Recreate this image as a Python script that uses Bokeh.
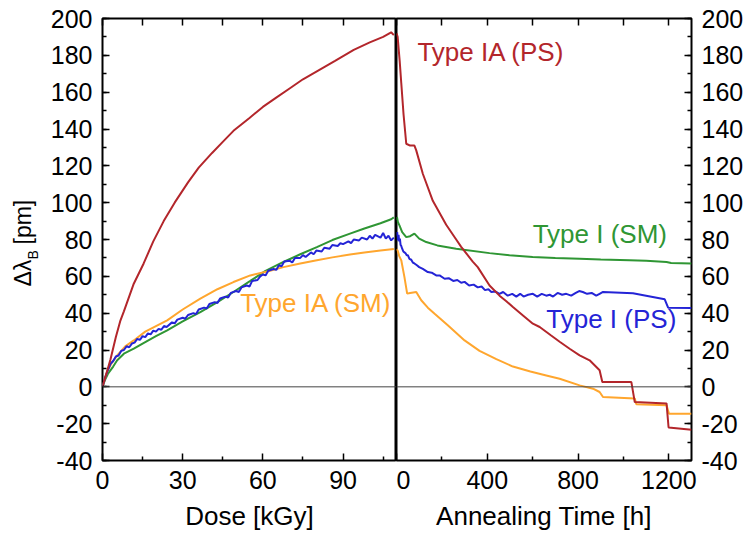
from bokeh.plotting import figure
from bokeh.models import Range1d, FixedTicker, LinearAxis, Span, Label, CustomJSTickFormatter
from bokeh.layouts import row
from bokeh.embed import file_html
from bokeh.resources import INLINE

# ---------------- data ----------------
# Irradiation phase (dose in kGy)
red_dose_x = [0, 1, 2, 3, 5, 6.7, 8, 11.7, 15.4, 19, 22.9, 27, 32, 36, 41, 45, 49, 55, 60, 65, 70, 75, 81, 87, 94, 100, 105, 108, 109]
red_dose_y = [0, 5, 10, 15, 27, 36, 41, 56, 67, 79, 90, 100, 111, 119, 127, 133, 139, 146, 152, 157, 162, 167, 172, 177, 183, 187, 190, 192.5, 191]

green_dose_x = [0, 1, 2, 4, 5.5, 8, 11.7, 15, 20, 24.2, 30, 36.6, 43, 49, 55.3, 61, 67.7, 74, 80.2, 86, 92.6, 98, 104, 108, 109]
green_dose_y = [0, 4, 7, 11, 14.4, 18, 20.7, 23.5, 27.5, 30.7, 35.5, 40.6, 46, 51.5, 57.5, 63, 67.8, 72, 75.9, 79.7, 83.2, 86, 88.8, 91, 92]

orange_dose_x = [0, 1, 2, 3.5, 5.5, 8.5, 11.7, 16, 20, 24.2, 30, 36.6, 43, 49, 55.3, 62, 67.7, 74, 80.2, 86, 92.6, 98, 104, 109]
orange_dose_y = [0, 5, 9, 13, 17.1, 22, 25.2, 30, 33, 36.1, 42, 47.9, 53, 56.9, 60.5, 62.8, 65, 67, 68.7, 70.3, 71.8, 73, 74, 74.8]

blue_dose_x = [0, 1, 2, 3, 4, 5, 6, 7, 8, 9, 10, 11, 12, 13, 14, 15, 16, 17, 18, 19, 20, 21, 22, 23, 24,
               26, 27, 28, 30, 31, 32, 34, 35, 36, 38, 39, 40, 42, 43, 44, 46, 47, 48, 50, 51, 52, 54, 55, 56,
               58, 59, 60, 61, 62, 64, 65, 66, 67, 68, 70, 71, 72, 74, 75, 76, 78, 79, 80, 82, 83, 85, 86, 88,
               89, 90, 92, 93, 94, 96, 97, 99, 100, 101, 102, 104, 105, 106, 107, 108, 109]
blue_dose_y = [0, 5, 9, 12.5, 14, 16.5, 17, 19.5, 20, 22, 21.5, 23.5, 24, 26, 25.5, 27.5, 27, 29, 28.5, 30.5, 30, 31.5, 31, 33, 32.5,
               35, 34.5, 36.5, 37.5, 37, 39, 40, 39.5, 42, 43, 42.5, 45, 46, 45.5, 48, 49, 48.5, 51, 52, 51.5, 54, 55, 54.5, 57.5,
               58, 60, 61, 60.5, 63, 64, 63.5, 66, 65.5, 68, 68.5, 67.5, 70, 70, 71.5, 70.5, 73, 72, 74, 73.5, 75.5, 75, 77, 76.5,
               78, 77.5, 79, 78, 80, 79.5, 81, 80, 82, 80.5, 82.5, 81, 83.5, 80.5, 82, 79.5, 81]

# Annealing phase (time in h)
red_ann_x = [0, 5, 14, 21, 31, 43, 60, 79, 87, 116, 160, 219, 263, 285, 336, 358, 410, 454, 484, 513, 560, 601, 631, 680, 719,
             763, 807, 851, 895, 907, 1035, 1050, 1190, 1199, 1300]
red_ann_y = [192, 190, 177, 165, 148, 132, 131, 131, 128.4, 115.7, 101, 88, 80, 76, 68, 65, 55, 49.5, 46.5, 43.3, 38.5, 34.3, 32.5, 28, 24.5,
             20.7, 17.1, 14.4, 9, 2.6, 2.6, -8.3, -9, -22.1, -23.3]

green_ann_x = [0, 2, 6, 13, 25, 43, 60, 79, 100, 131, 180, 263, 410, 498, 600, 700, 807, 900, 1027, 1100, 1190, 1210, 1300]
green_ann_y = [90.5, 92.2, 89.5, 87.7, 84, 81.3, 81.8, 83.2, 80.5, 78.6, 76.8, 75, 72.6, 71.4, 70.5, 70, 69.6, 69.2, 68.7, 68.4, 67.8, 67.2, 67]

orange_ann_x = [0, 5, 12, 21, 35, 47, 60, 87, 109, 138, 168, 226, 300, 366, 440, 513, 590, 660, 719, 807, 866, 895, 910, 1050, 1057, 1190, 1201, 1300]
orange_ann_y = [74.8, 74, 71, 68.7, 59.6, 50.6, 51, 51.5, 47, 43, 39.7, 33.4, 25.2, 19.5, 15, 11, 8.3, 6.2, 4.4, 0.8, -1, -2.8, -5.5, -6.4, -9.5, -10, -14.6, -14.6]

blue_ann_x = [0, 3, 6, 9, 12, 15, 18, 21, 25, 30, 35, 40, 45, 50, 57, 65, 72, 79, 90, 100, 116, 138, 155, 175, 190, 212, 230, 250,
              268, 285, 300, 320, 340, 358, 375, 390, 405, 418, 435, 454, 470, 490, 510, 528, 545, 560, 580, 601, 620, 640, 660,
              675, 690, 710, 730, 748, 770, 790, 805, 821, 840, 860, 880, 895, 910, 1042, 1100, 1182, 1197, 1300]
blue_ann_y = [82, 84, 79.5, 82.5, 79, 80.5, 77, 76.5, 75, 73.5, 73, 72.5, 71.5, 71.5, 69.5, 69, 67.5, 67, 66, 65, 64, 62.3, 62, 60.5, 60.5, 58.7, 59, 57.5,
              58, 56.5, 57, 55, 55.5, 54, 54.5, 52.5, 53, 51.5, 51.8, 50.5, 51.5, 49.5, 50.5, 49, 50.5, 49, 50, 50.5, 49, 50.5, 49.5,
              50, 49, 51, 50, 50.5, 49.5, 51, 52, 51.5, 50.5, 51, 49.5, 50.5, 51.5, 50.8, 49.5, 47.5, 43, 42.8]

dose_ticks = [0, 30, 60, 90]
dose_minor = [15, 45, 75, 105]
time_ticks = [0, 400, 800, 1200]
time_minor = [200, 600, 1000]
y_ticks = list(range(-40, 201, 20))
y_minor = list(range(-40, 201, 10))
y_title_parts = ["Δλ", "B", "[pm]"]

# ---------------- style ----------------
FONT = "Liberation Sans"
RED = "#b3262b"
GREEN = "#2f9634"
BLUE = "#2424d6"
ORANGE = "#ffa62e"
LW = 2
H = 538          # total figure height
TITLE_W = 40     # width of the strip holding the y-axis title


def style_axis(ax, show_labels=True):
    ax.axis_line_color = None
    ax.major_tick_in = 7
    ax.major_tick_out = 0
    ax.minor_tick_in = 4
    ax.minor_tick_out = 0
    ax.major_tick_line_width = 1.5
    ax.minor_tick_line_width = 1.5
    ax.major_tick_line_color = "black"
    ax.minor_tick_line_color = "black"
    ax.major_label_text_font = FONT
    ax.major_label_text_color = "black"
    if show_labels:
        ax.formatter = CustomJSTickFormatter(code="return tick.toString()")
        ax.major_label_text_font_size = "25px"
        ax.major_label_standoff = 10
    else:
        ax.formatter = CustomJSTickFormatter(code="return ''")
        ax.major_label_text_font_size = "1px"
        ax.major_label_standoff = 0
    ax.axis_label_text_font = FONT
    ax.axis_label_text_font_style = "normal"
    ax.axis_label_text_font_size = "26px"
    ax.axis_label_text_color = "black"
    ax.axis_label_standoff = 9


def make_fig(xr, fw, loc, mbl, mbr):
    p = figure(frame_width=fw, frame_height=442, x_range=xr, y_range=Range1d(-40, 200),
               output_backend="svg", toolbar_location=None, y_axis_location=loc,
               min_border_left=mbl, min_border_right=mbr, min_border_top=18, min_border_bottom=H - 18 - 442)
    p.grid.visible = False
    p.outline_line_color = "black"
    p.outline_line_width = 2
    p.background_fill_color = "white"
    p.border_fill_color = "white"
    p.yaxis.ticker = FixedTicker(ticks=y_ticks, minor_ticks=y_minor)
    style_axis(p.yaxis[0])
    style_axis(p.xaxis[0])
    p.add_layout(Span(location=0, dimension="width", line_color="#444444", line_width=1))
    return p


# Strip for the rotated y-axis title (pixel coordinates, y measured from the bottom)
p0 = figure(frame_width=TITLE_W, frame_height=H, x_range=Range1d(0, TITLE_W), y_range=Range1d(0, H),
            output_backend="svg", toolbar_location=None, x_axis_type=None, y_axis_type=None,
            min_border=0)
p0.grid.visible = False
p0.outline_line_color = None
p0.add_layout(Label(x=22, y=H - 268, text=y_title_parts[0], angle=1.5707963, text_color="black",
                    text_font=FONT, text_font_size="23px", text_baseline="middle", text_align="left"))
p0.add_layout(Label(x=32, y=H - 241, text=y_title_parts[1], angle=1.5707963, text_color="black",
                    text_font=FONT, text_font_size="14px", text_baseline="middle", text_align="left"))
p0.add_layout(Label(x=22, y=H - 226, text=y_title_parts[2], angle=1.5707963, text_color="black",
                    text_font=FONT, text_font_size="23px", text_baseline="middle", text_align="left"))

# Left: irradiation
p1 = make_fig(Range1d(0, 110), 294, "left", 102 - TITLE_W, 0)
p1.xaxis.ticker = FixedTicker(ticks=dose_ticks, minor_ticks=dose_minor)
p1.xaxis.axis_label = "Dose [kGy]"
top1 = LinearAxis(ticker=FixedTicker(ticks=dose_ticks + dose_minor))
style_axis(top1, show_labels=False)
p1.add_layout(top1, "above")

p1.line(green_dose_x, green_dose_y, line_color=GREEN, line_width=LW)
p1.line(orange_dose_x, orange_dose_y, line_color=ORANGE, line_width=LW)
p1.line(blue_dose_x, blue_dose_y, line_color=BLUE, line_width=LW)
p1.line(red_dose_x, red_dose_y, line_color=RED, line_width=LW)

p1.add_layout(Label(x=51.5, y=45.6, text="Type IA (SM)", text_color=ORANGE, text_font=FONT,
                    text_font_size="26px", text_baseline="middle", text_align="left"))

# Right: annealing
p2 = make_fig(Range1d(0, 1300), 295, "right", 0, 44)
p2.xaxis.ticker = FixedTicker(ticks=time_ticks, minor_ticks=time_minor)
p2.xaxis.axis_label = "Annealing Time [h]"
top2 = LinearAxis(ticker=FixedTicker(ticks=time_ticks + time_minor))
style_axis(top2, show_labels=False)
p2.add_layout(top2, "above")

p2.line(green_ann_x, green_ann_y, line_color=GREEN, line_width=LW)
p2.line(orange_ann_x, orange_ann_y, line_color=ORANGE, line_width=LW)
p2.line(blue_ann_x, blue_ann_y, line_color=BLUE, line_width=LW)
p2.line(red_ann_x, red_ann_y, line_color=RED, line_width=LW)

p2.add_layout(Label(x=92, y=181.6, text="Type IA (PS)", text_color=RED, text_font=FONT,
                    text_font_size="26px", text_baseline="middle", text_align="left"))
p2.add_layout(Label(x=600, y=83, text="Type I (SM)", text_color=GREEN, text_font=FONT,
                    text_font_size="26px", text_baseline="middle", text_align="left"))
p2.add_layout(Label(x=660, y=36.6, text="Type I (PS)", text_color=BLUE, text_font=FONT,
                    text_font_size="26px", text_baseline="middle", text_align="left"))

layout = row(p0, p1, p2, spacing=0)
open("out.html", "w").write(file_html(layout, INLINE))
